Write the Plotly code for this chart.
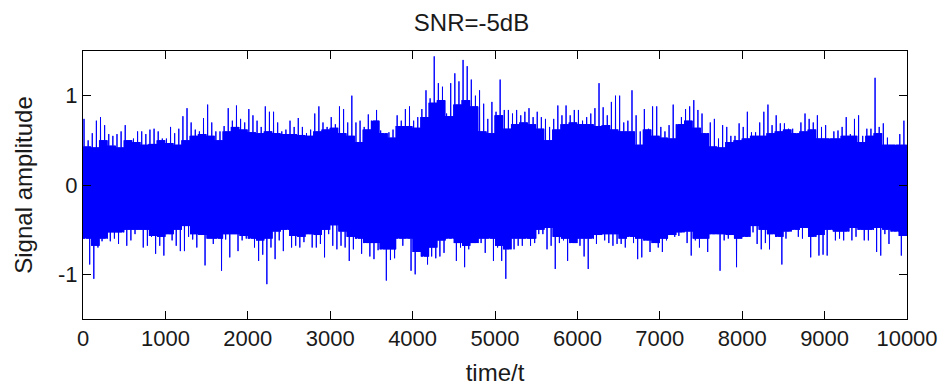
import plotly.graph_objects as go

# ---- data ----
n_samples = 10000
spike_bin = 50    # samples per spike bin
body_bin = 100    # samples per body bin

# extreme value reached in each 50-sample bin
upper_peaks = [
    0.74, 0.50, 0.58, 0.72, 0.76, 0.67, 0.57, 0.55, 0.57, 0.60,
    0.67, 0.50, 0.52, 0.60, 0.60, 0.57, 0.62, 0.63, 0.60, 0.52,
    0.52, 0.65, 0.58, 0.63, 0.77, 0.86, 0.70, 0.62, 0.60, 0.75,
    0.90, 0.70, 0.60, 0.60, 0.66, 0.86, 0.72, 0.89, 0.74, 0.70,
    0.85, 0.78, 0.72, 0.65, 0.88, 0.82, 0.82, 0.70, 0.60, 0.62,
    0.72, 0.65, 0.75, 0.65, 0.58, 0.62, 0.80, 0.88, 0.70, 0.65,
    0.76, 0.68, 0.88, 0.85, 0.70, 1.00, 0.70, 0.72, 0.65, 0.79,
    0.65, 0.84, 0.61, 0.46, 0.59, 0.62, 0.78, 0.72, 0.85, 0.88,
    0.72, 0.76, 0.85, 1.06, 0.97, 1.44, 1.14, 1.10, 0.80, 1.14,
    1.25, 1.16, 1.40, 1.33, 1.18, 1.00, 1.06, 0.91, 0.74, 0.93,
    0.82, 1.18, 0.84, 0.84, 0.80, 0.84, 0.78, 0.82, 0.86, 0.76,
    0.82, 0.76, 0.74, 0.65, 0.74, 0.89, 0.78, 0.89, 0.78, 0.84,
    0.84, 0.72, 0.76, 0.80, 0.86, 1.14, 0.87, 0.78, 0.93, 1.00,
    1.00, 0.70, 0.72, 1.06, 0.78, 0.60, 0.85, 0.63, 0.88, 0.88,
    0.65, 0.60, 0.67, 0.90, 0.57, 0.76, 0.85, 0.88, 0.95, 0.84,
    0.80, 0.56, 0.70, 0.74, 0.52, 0.67, 0.65, 0.55, 0.55, 0.69,
    0.65, 0.82, 0.59, 0.59, 0.70, 0.82, 0.90, 0.67, 0.78, 0.69,
    0.69, 0.63, 0.63, 0.57, 0.70, 0.80, 0.74, 0.70, 0.78, 0.65,
    0.67, 0.50, 0.60, 0.61, 0.65, 0.76, 0.57, 0.74, 0.78, 0.55,
    0.63, 0.63, 1.20, 0.65, 0.69, 0.53, 0.45, 0.40, 0.57, 0.72,
]

lower_peaks = [
    -0.57, -0.89, -1.05, -0.70, -0.63, -0.55, -0.63, -0.60, -0.66, -0.45,
    -0.68, -0.62, -0.55, -0.50, -0.70, -0.68, -0.58, -0.77, -0.68, -0.79,
    -0.50, -0.62, -0.68, -0.74, -0.74, -0.58, -0.61, -0.70, -0.45, -0.90,
    -0.60, -0.66, -0.55, -0.96, -0.61, -0.81, -0.55, -0.74, -0.62, -0.60,
    -0.45, -0.70, -0.85, -0.78, -1.11, -0.70, -0.83, -0.62, -0.74, -0.45,
    -0.70, -0.68, -0.70, -0.64, -0.45, -0.70, -0.70, -0.66, -0.81, -0.55,
    -0.68, -0.72, -0.68, -0.70, -0.85, -0.72, -0.45, -0.77, -0.55, -0.80,
    -0.83, -0.73, -0.60, -1.07, -0.84, -0.82, -0.48, -0.68, -0.55, -0.96,
    -1.00, -0.60, -0.55, -0.89, -0.80, -0.82, -0.80, -0.76, -0.55, -0.55,
    -0.85, -0.70, -0.92, -0.72, -0.65, -0.55, -0.65, -0.76, -0.55, -0.85,
    -0.70, -0.85, -1.05, -0.55, -0.72, -0.68, -0.68, -0.58, -0.68, -0.65,
    -0.55, -0.55, -0.72, -0.68, -0.94, -0.65, -0.62, -0.85, -0.50, -0.65,
    -0.68, -0.80, -0.94, -0.40, -0.66, -0.55, -0.62, -0.65, -0.68, -0.66,
    -0.66, -0.70, -0.55, -0.65, -0.83, -0.81, -0.40, -0.75, -0.50, -0.70,
    -0.75, -0.62, -0.55, -0.58, -0.57, -0.52, -0.65, -0.79, -0.62, -0.70,
    -0.60, -0.75, -0.50, -0.45, -0.96, -0.62, -0.60, -0.52, -0.92, -0.60,
    -0.48, -0.50, -0.53, -0.66, -0.72, -0.65, -0.72, -0.45, -0.55, -0.89,
    -0.60, -0.48, -0.45, -0.58, -0.60, -0.45, -0.81, -0.52, -0.79, -0.78,
    -0.79, -0.45, -0.62, -0.60, -0.62, -0.50, -0.62, -0.58, -0.45, -0.62,
    -0.62, -0.45, -0.75, -0.79, -0.55, -0.66, -0.48, -0.45, -0.79, -0.55,
]

# top / bottom of the dense (solid) body, per 100 samples
body_upper = [
    0.43, 0.42, 0.50, 0.44, 0.42, 0.50, 0.48, 0.45, 0.46, 0.50,
    0.47, 0.45, 0.50, 0.55, 0.57, 0.55, 0.50, 0.60, 0.65, 0.62,
    0.59, 0.58, 0.60, 0.58, 0.57, 0.57, 0.56, 0.55, 0.60, 0.62,
    0.64, 0.58, 0.55, 0.48, 0.62, 0.72, 0.58, 0.53, 0.66, 0.66,
    0.64, 0.76, 0.92, 0.95, 0.77, 0.90, 0.95, 0.88, 0.60, 0.58,
    0.78, 0.63, 0.68, 0.70, 0.68, 0.63, 0.50, 0.62, 0.68, 0.70,
    0.68, 0.68, 0.66, 0.67, 0.62, 0.60, 0.60, 0.45, 0.62, 0.55,
    0.53, 0.52, 0.68, 0.72, 0.64, 0.58, 0.43, 0.42, 0.48, 0.50,
    0.52, 0.55, 0.55, 0.58, 0.60, 0.62, 0.58, 0.60, 0.62, 0.52,
    0.52, 0.52, 0.55, 0.55, 0.48, 0.55, 0.58, 0.45, 0.45, 0.45,
]
body_lower = [
    -0.60, -0.68, -0.60, -0.53, -0.53, -0.50, -0.50, -0.50, -0.57, -0.58,
    -0.55, -0.50, -0.46, -0.55, -0.56, -0.60, -0.60, -0.55, -0.55, -0.57,
    -0.60, -0.62, -0.60, -0.52, -0.50, -0.57, -0.58, -0.55, -0.56, -0.50,
    -0.45, -0.52, -0.58, -0.60, -0.65, -0.65, -0.72, -0.72, -0.60, -0.60,
    -0.75, -0.80, -0.70, -0.62, -0.60, -0.65, -0.68, -0.65, -0.60, -0.60,
    -0.68, -0.72, -0.60, -0.60, -0.60, -0.50, -0.48, -0.58, -0.60, -0.65,
    -0.60, -0.60, -0.56, -0.55, -0.55, -0.60, -0.58, -0.60, -0.62, -0.65,
    -0.60, -0.56, -0.53, -0.52, -0.60, -0.60, -0.55, -0.55, -0.56, -0.60,
    -0.58, -0.46, -0.50, -0.55, -0.58, -0.52, -0.50, -0.48, -0.58, -0.56,
    -0.50, -0.52, -0.52, -0.48, -0.50, -0.50, -0.48, -0.50, -0.52, -0.57,
]

x_ticks = [0, 1000, 2000, 3000, 4000, 5000, 6000, 7000, 8000, 9000, 10000]
y_ticks = [-1, 0, 1]
y_tick_text = ["-1", "0", "1"]

BLUE = "#0000FF"

# ---- build the trace: body oscillation plus the read spikes ----
xs, ys = [], []
pts = 8
for i, (u, l) in enumerate(zip(upper_peaks, lower_peaks)):
    bh = body_upper[(i * spike_bin) // body_bin]
    bl = body_lower[(i * spike_bin) // body_bin]
    seq = [bh, bl, u, bl, bh, l, bh, bl]
    for k, v in enumerate(seq):
        xs.append(i * spike_bin + k * spike_bin / pts)
        ys.append(v)

# solid core of the dense oscillation (step outline of the body levels)
bx = [j * body_bin for j in range(len(body_upper))] + [n_samples]
bu = body_upper + [body_upper[-1]]
bl_ = body_lower + [body_lower[-1]]

fig = go.Figure()
fig.add_trace(go.Scatter(x=bx, y=bl_, mode="lines", line=dict(width=0, shape="hv"),
                         hoverinfo="skip", showlegend=False))
fig.add_trace(go.Scatter(x=bx, y=bu, mode="lines", line=dict(width=0, shape="hv"),
                         fill="tonexty", fillcolor=BLUE,
                         hoverinfo="skip", showlegend=False))
fig.add_trace(go.Scatter(x=xs, y=ys, mode="lines",
                         line=dict(color=BLUE, width=1), hoverinfo="skip",
                         showlegend=False))

font_family = "Liberation Sans, Arial, sans-serif"
text_color = "#1a1a1a"
fig.update_layout(
    width=943, height=388,
    margin=dict(l=83, r=36, t=51, b=69),
    paper_bgcolor="white", plot_bgcolor="white",
    font=dict(family=font_family, size=22, color=text_color),
    title=dict(text="SNR=-5dB", x=0.5, xanchor="center", y=0.943, yanchor="middle",
               font=dict(size=24, color=text_color)),
    showlegend=False,
)
fig.update_xaxes(
    range=[0, n_samples], tickvals=x_ticks, ticktext=[str(t) for t in x_ticks],
    ticks="inside", ticklen=8, tickwidth=1, tickcolor="black",
    showline=True, linecolor="black", linewidth=1, mirror="ticks",
    showgrid=False, zeroline=False, automargin=False,
    title=dict(text="time/t", standoff=13, font=dict(size=24)),
    tickfont=dict(size=22),
)
fig.update_yaxes(
    range=[-1.5, 1.5], tickvals=y_ticks, ticktext=y_tick_text,
    ticks="inside", ticklen=8, tickwidth=1, tickcolor="black",
    showline=True, linecolor="black", linewidth=1, mirror="ticks",
    showgrid=False, zeroline=False, automargin=False,
    title=dict(text="Signal amplitude", standoff=18, font=dict(size=24)),
    tickfont=dict(size=22),
)

fig.write_html("out.html", config={"displayModeBar": False},
               post_script="document.body.style.margin='0px';")
